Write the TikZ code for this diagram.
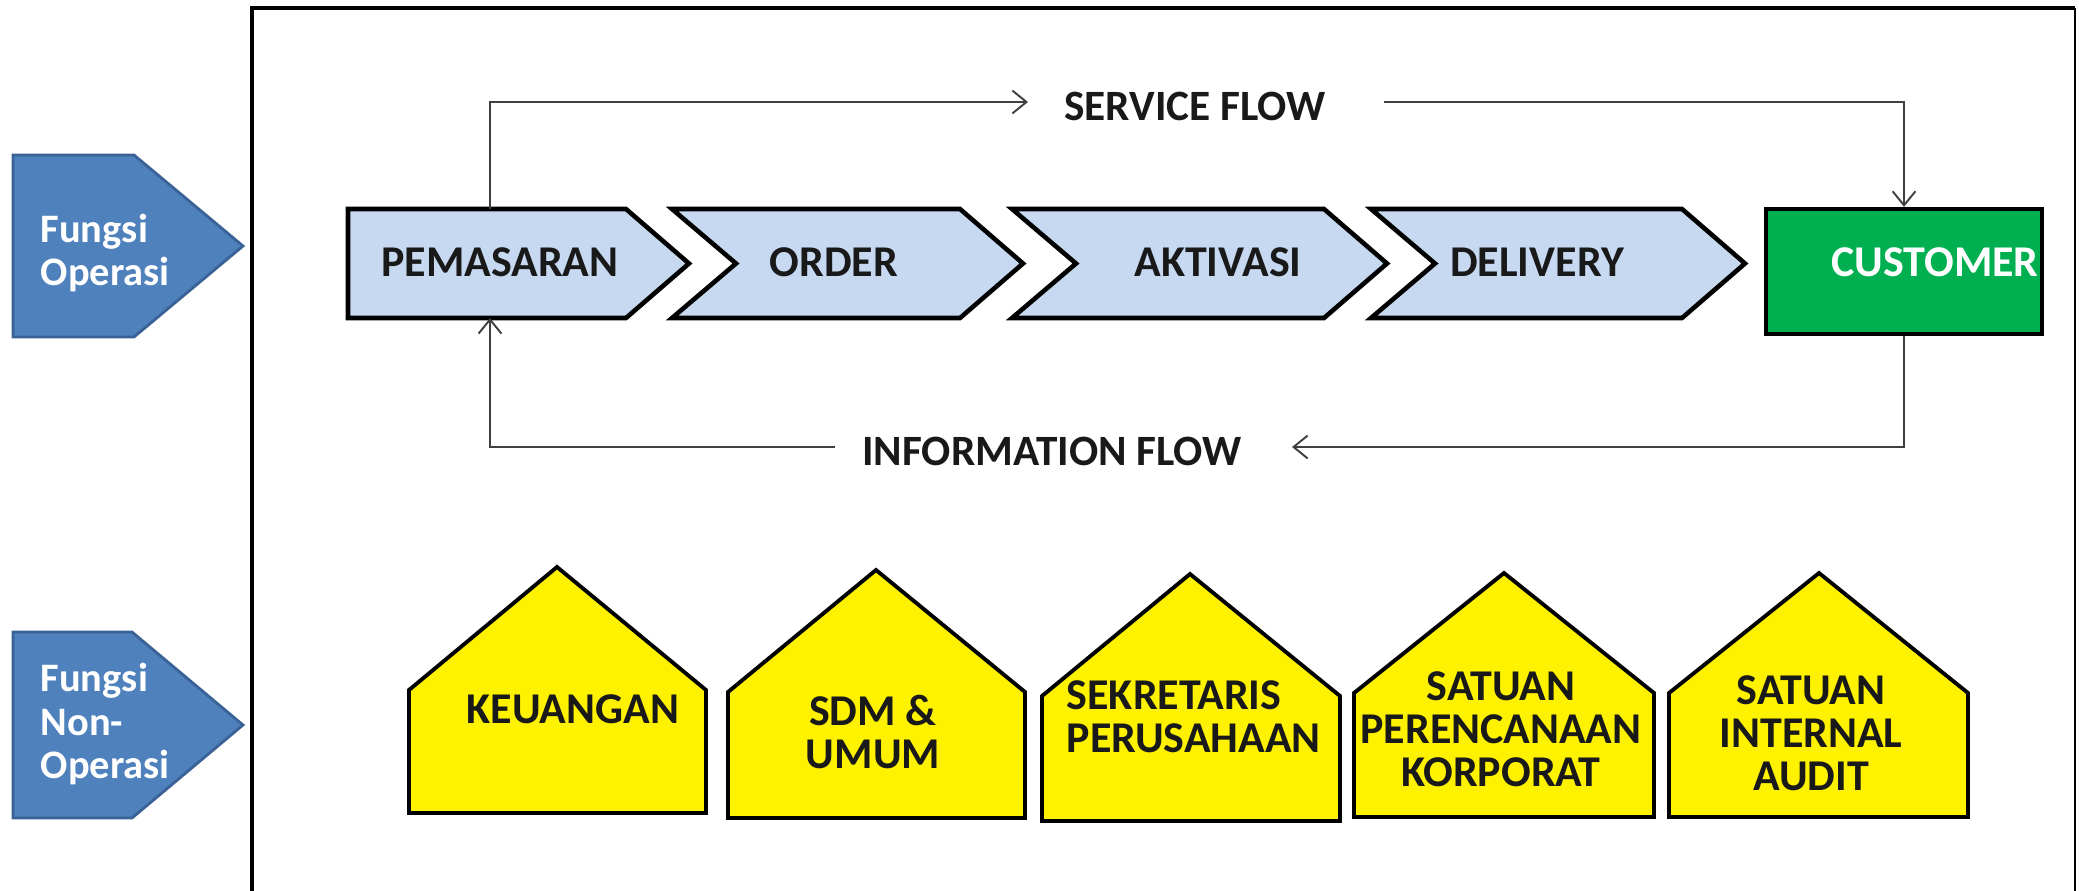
\documentclass[tikz,border=0pt]{standalone}
\usepackage{fontspec}
\setmainfont{Carlito}
\usetikzlibrary{arrows.meta}

\definecolor{chevronblue}{HTML}{C6D9F1}
\definecolor{fungsiblue}{HTML}{4F81BD}
\definecolor{fungsiedge}{HTML}{3A6296}
\definecolor{custgreen}{HTML}{00B050}
\definecolor{flowgray}{HTML}{404040}

\begin{document}
\begin{tikzpicture}[x=0.01cm, y=-0.01cm,
		chevron/.style={draw=black, line width=1.3pt, fill=chevronblue, line join=miter},
		house/.style={draw=black, line width=1.1pt, fill=yellow, line join=miter},
		fungsi/.style={draw=fungsiedge, line width=0.8pt, fill=fungsiblue},
		custbox/.style={draw=black, line width=1.2pt, fill=custgreen, minimum width=2.76cm, minimum height=1.25cm, inner sep=0pt},
		flow/.style={draw=flowgray, line width=0.55pt, -{Straight Barb[length=4pt, width=6.5pt]}},
		boxtext/.style={inner sep=0pt, font=\fontsize{12.5}{12.2}\selectfont\bfseries, align=center, text=black!90},
		fungsitext/.style={inner sep=0pt, font=\fontsize{11.5}{12.4}\selectfont\bfseries, text=white, align=left},
		flowtext/.style={inner sep=0pt, font=\fontsize{12.3}{14}\selectfont\bfseries, text=black!90}]
	
	\useasboundingbox (0,0) rectangle (2079,891);
	
	\draw[line width=1.2pt] (252,900) -- (252,8) -- (2075,8);
	\draw[line width=0.8pt] (2075,8) -- (2075,900);
	
	\draw[fungsi] (13,155) -- (134,155) -- (243,246) -- (134,337) -- (13,337) -- cycle;
	\node[fungsitext, anchor=west] (fOps) at (40,253) {Fungsi\\Operasi};
	
	\draw[fungsi] (13,632) -- (132,632) -- (243,725) -- (132,818) -- (13,818) -- cycle;
	\node[fungsitext, anchor=west] (fNonOps) at (40,724) {Fungsi\\Non-\\Operasi};
	
	\draw[chevron] (348,209) -- (626,209) -- (689,263.5) -- (626,318) -- (348,318) -- cycle;
	\draw[chevron] (672,209) -- (960,209) -- (1023,263.5) -- (960,318) -- (672,318) -- (736,263.5) -- cycle;
	\draw[chevron] (1012,209) -- (1324,209) -- (1387,263.5) -- (1324,318) -- (1012,318) -- (1076,263.5) -- cycle;
	\draw[chevron] (1371,209) -- (1682,209) -- (1745,263.5) -- (1682,318) -- (1371,318) -- (1435,263.5) -- cycle;
	
	\node[boxtext] (pem) at (500,262) {PEMASARAN};
	\node[boxtext] (ord) at (834,262) {ORDER};
	\node[boxtext] (akt) at (1218,262) {AKTIVASI};
	\node[boxtext] (del) at (1537,262) {DELIVERY};
	
	\node[custbox] (cust) at (1904,271.5) {};
	\node[boxtext, text=white] (custText) at (1935,262) {CUSTOMER};
	
	\coordinate (pemTop) at (490,209);
	\coordinate (pemBot) at (490,318);
	
	\node[flowtext] (sf) at (1195,106) {SERVICE FLOW};
	\coordinate (sfA) at (1028,102);
	\coordinate (sfB) at (1384,102);
	\draw[flow] (pemTop) |- (sfA);
	\draw[flow] (sfB) -| (cust.north);
	
	\node[flowtext] (inf) at (1052,451) {INFORMATION FLOW};
	\coordinate (infA) at (1292,447);
	\coordinate (infB) at (835,447);
	\draw[flow] (cust.south) |- (infA);
	\draw[flow] (infB) -| (pemBot);
	
	\draw[house] (409,813) -- (409,690) -- (557,567) -- (706,690) -- (706,813) -- cycle;
	\draw[house] (728,818) -- (728,692) -- (876,570) -- (1025,692) -- (1025,818) -- cycle;
	\draw[house] (1042,821) -- (1042,696) -- (1190,574) -- (1340,696) -- (1340,821) -- cycle;
	\draw[house] (1354,817) -- (1354,693) -- (1504,573) -- (1654,693) -- (1654,817) -- cycle;
	\draw[house] (1669,817) -- (1669,693) -- (1819,573) -- (1968,693) -- (1968,817) -- cycle;
	
	\node[boxtext] (keu) at (573,709) {KEUANGAN};
	\node[boxtext] (sdm) at (873,732) {SDM \&\\UMUM};
	\node[boxtext, align=left, anchor=west] (sekr) at (1066,717) {SEKRETARIS\\PERUSAHAAN};
	\node[boxtext] (spk) at (1501,729) {SATUAN\\PERENCANAAN\\KORPORAT};
	\node[boxtext] (sia) at (1811,733) {SATUAN\\INTERNAL\\AUDIT};
	
\end{tikzpicture}
\end{document}
